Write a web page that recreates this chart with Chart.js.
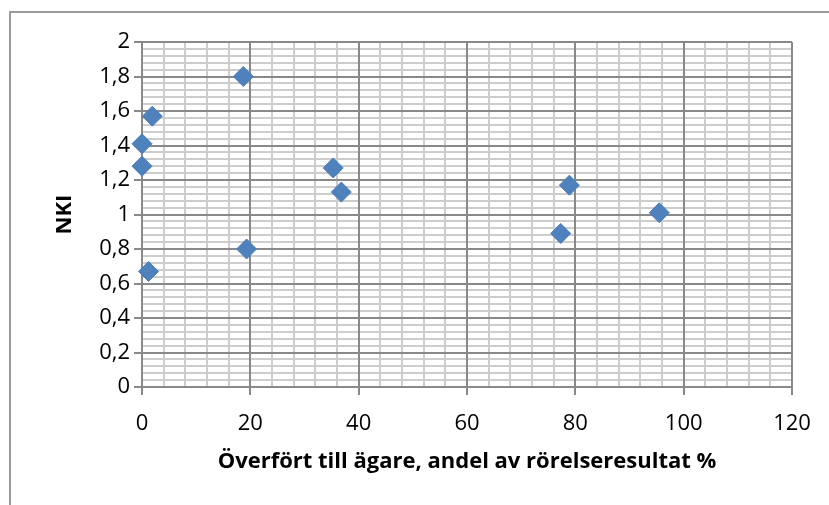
<!DOCTYPE html>
<html>
<head>
<meta charset="utf-8">
<script src="https://cdn.jsdelivr.net/npm/chart.js@4"></script>
<style>
  html, body { margin: 0; padding: 0; background: #fff; overflow: hidden; }
  #wrap { position: relative; width: 829px; height: 505px; }
  #frame { position: absolute; left: 9px; top: 11px; width: 900px; height: 600px;
           border: 2px solid #9a9a9a; box-sizing: border-box; }
  canvas { position: absolute; left: 0; top: 0; }
</style>
</head>
<body>
<div id="wrap">
  <div id="frame"></div>
  <canvas id="chart" width="829" height="505"></canvas>
</div>
<script>
// Share transferred to owners (% of operating result) vs. NKI
const transferShare = [0, 0, 1.9, 1.2, 18.7, 19.3, 35.3, 36.8, 77.3, 78.9, 95.5];
const nki           = [1.41, 1.28, 1.57, 0.67, 1.80, 0.80, 1.27, 1.13, 0.89, 1.17, 1.01];

const xTickValues = [0, 20, 40, 60, 80, 100, 120];
const xTickLabels = ['0', '20', '40', '60', '80', '100', '120'];
const yTickValues = [0, 0.2, 0.4, 0.6, 0.8, 1, 1.2, 1.4, 1.6, 1.8, 2];
const yTickLabels = ['0', '0,2', '0,4', '0,6', '0,8', '1', '1,2', '1,4', '1,6', '1,8', '2'];

const xTitle = 'Överfört till ägare, andel av rörelseresultat %';
const yTitle = 'NKI';

const MAJOR = '#898989';
const MINOR = '#cdcdcd';
const FONT = "'Open Sans', sans-serif";

const points = transferShare.map((x, i) => ({ x, y: nki[i] }));

function minorSteps(min, max, step) {
  const out = [];
  const n = Math.round((max - min) / step);
  for (let i = 0; i <= n; i++) out.push({ value: +(min + i * step).toFixed(4) });
  return out;
}

new Chart(document.getElementById('chart'), {
  type: 'scatter',
  data: {
    datasets: [{
      data: points,
      pointStyle: 'rectRot',
      pointRadius: 10,
      pointHoverRadius: 10,
      backgroundColor: '#4F81BD',
      borderColor: '#4A7EBB',
      borderWidth: 1,
      clip: false
    }]
  },
  options: {
    responsive: false,
    animation: false,
    devicePixelRatio: 1,
    events: [],
    layout: { padding: { top: 42, right: 37, left: 0, bottom: 0 } },
    plugins: { legend: { display: false }, tooltip: { enabled: false } },
    scales: {
      xMinor: {
        type: 'linear', position: 'bottom', min: 0, max: 120,
        afterBuildTicks: s => { s.ticks = minorSteps(0, 120, 4); },
        ticks: { display: false },
        grid: { color: MINOR, lineWidth: 2, drawTicks: false, z: -2 },
        border: { display: false }
      },
      yMinor: {
        type: 'linear', position: 'left', min: 0, max: 2,
        afterBuildTicks: s => { s.ticks = minorSteps(0, 2, 0.04); },
        ticks: { display: false },
        grid: { color: MINOR, lineWidth: 2, drawTicks: false, z: -2 },
        border: { display: false }
      },
      x: {
        type: 'linear', position: 'bottom', min: 0, max: 120,
        afterBuildTicks: s => { s.ticks = xTickValues.map(v => ({ value: v })); },
        afterFit: s => { s.height = 118; },
        ticks: {
          color: '#000', padding: 16, autoSkip: false, maxRotation: 0,
          font: { family: FONT, size: 22 },
          callback: (v, i) => xTickLabels[i]
        },
        grid: { color: MAJOR, lineWidth: 2, tickLength: 8, drawTicks: true },
        border: { color: MAJOR, width: 2 },
        title: {
          display: true, text: xTitle, color: '#000',
          font: { family: FONT, size: 22, weight: 'bold' },
          padding: { top: 0, bottom: 30 }
        }
      },
      y: {
        type: 'linear', position: 'left', min: 0, max: 2,
        afterBuildTicks: s => { s.ticks = yTickValues.map(v => ({ value: v })); },
        afterFit: s => { s.width = 142; },
        ticks: {
          color: '#000', padding: 4, autoSkip: false,
          font: { family: FONT, size: 22 },
          callback: (v, i) => yTickLabels[i]
        },
        grid: { color: MAJOR, lineWidth: 2, tickLength: 8, drawTicks: true },
        border: { color: MAJOR, width: 2 },
        title: {
          display: true, text: yTitle, color: '#000',
          font: { family: FONT, size: 22, weight: 'bold' },
          padding: { top: 52, bottom: 0 }
        }
      }
    }
  }
});
</script>
</body>
</html>
